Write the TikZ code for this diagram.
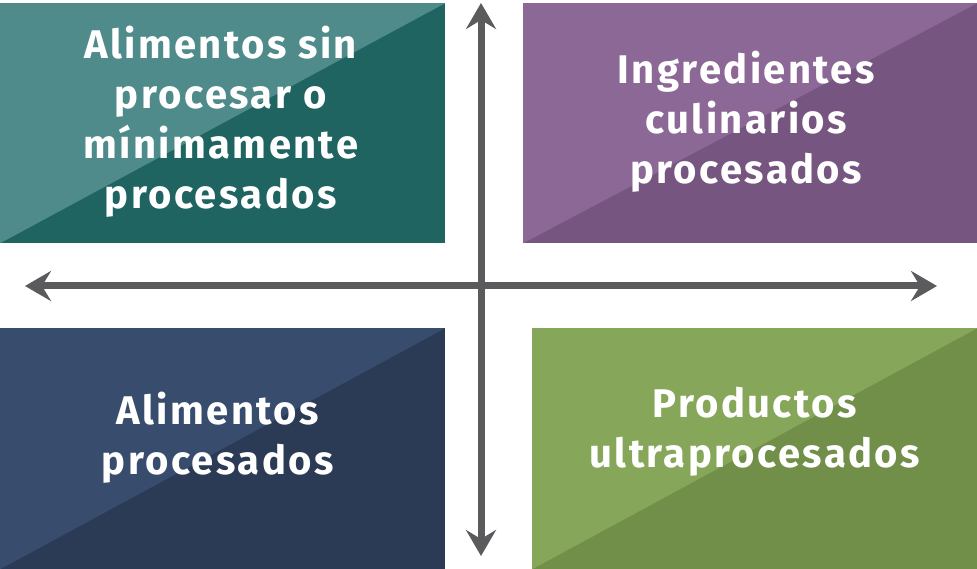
\documentclass[tikz,border=0pt]{standalone}
\usepackage{fontspec}
\setmainfont{Fira Sans}
\newfontfamily\quadfont{Fira Sans}[LetterSpace=6]
\usepackage{tikz}
\usetikzlibrary{arrows.meta,positioning}
\definecolor{tealA}{HTML}{4F8B8B}
\definecolor{tealB}{HTML}{1F6461}
\definecolor{purpA}{HTML}{8B6896}
\definecolor{purpB}{HTML}{765680}
\definecolor{navyA}{HTML}{384C6E}
\definecolor{navyB}{HTML}{2B3A55}
\definecolor{greenA}{HTML}{86A75A}
\definecolor{greenB}{HTML}{718F49}
\definecolor{axisgray}{HTML}{5B5B5D}
\begin{document}
\begin{tikzpicture}[x=1pt,y=-1pt,
	quad/.style 2 args={rectangle,anchor=north west,fill=#2,inner sep=0pt,minimum height=240pt,
		path picture={\fill[#1] (path picture bounding box.south west) -- (path picture bounding box.north west) -- (path picture bounding box.north east) -- cycle;}},
	quad_text/.style={text=white,align=center,inner sep=0pt,font=\quadfont\fontsize{40}{50}\selectfont\bfseries},
	axis_line/.style={draw=axisgray,line width=7pt,{Stealth[length=26pt,width=30pt,inset=9pt]}-{Stealth[length=26pt,width=30pt,inset=9pt]}}]
				\useasboundingbox (0,0) rectangle (977,569);
				\node[quad={tealA}{tealB},minimum width=445pt](1) at (0,3){};
				\node[quad={purpA}{purpB},minimum width=454pt](2) at (523,3){};
				\node[quad={navyA}{navyB},minimum width=445pt,minimum height=241pt](3) at (0,328){};
				\node[quad={greenA}{greenB},minimum width=445pt,minimum height=241pt](4) at (532,328){};
				\node[quad_text](t1) at ([xshift=-2pt,yshift=1pt]1.center){Alimentos sin\\procesar o\\mínimamente\\procesados};
				\node[quad_text](t2) at ([xshift=-4pt,yshift=1pt]2.center){Ingredientes\\culinarios\\procesados};
				\node[quad_text](t3) at ([xshift=-5pt,yshift=11pt]3.center){Alimentos\\procesados};
				\node[quad_text](t4) at ([xshift=0pt,yshift=17pt]4.center){Productos\\ultraprocesados};
				\coordinate (w) at (25,286);
				\coordinate (e) at (937,286);
				\coordinate (n) at (481,3);
				\coordinate (s) at (481,556);
				\draw[axis_line] (w) -- (e);
				\draw[axis_line] (s) -- (n);
			\end{tikzpicture}
\end{document}
